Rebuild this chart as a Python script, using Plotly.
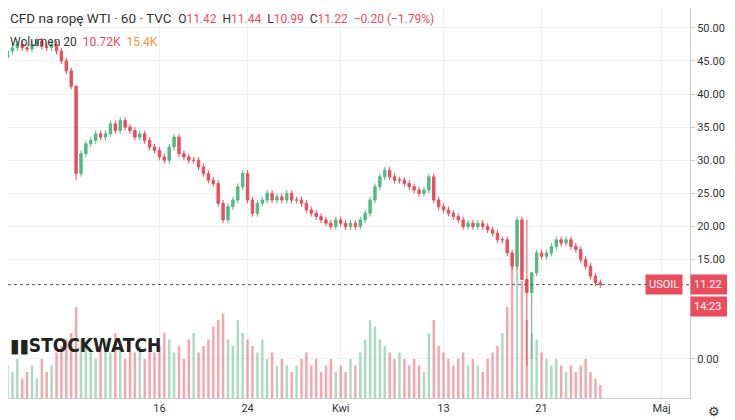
import plotly.graph_objects as go

# closes, 3 candles per trading day (Mar 2 .. Apr 28)
close = [45.5, 46.5, 47.0, 47.5, 47.0, 46.8, 47.5, 48.0, 47.2, 47.0, 47.5, 46.5, 45.0, 43.5, 41.2,
         28.0, 31.0, 32.5, 33.0, 34.0, 33.5, 34.0, 35.5, 34.5, 36.0, 35.0, 34.5, 33.5, 34.0, 33.0,
         32.0, 31.5, 30.5, 30.0, 32.0, 33.5, 31.0, 30.5, 30.0, 30.0, 29.0, 28.0, 27.0, 26.5, 23.5,
         21.0, 23.0, 24.0, 26.0, 28.0, 24.0, 22.0, 23.5, 24.0, 25.0, 24.0, 24.5, 24.0, 25.0, 24.0,
         24.0, 23.5, 22.5, 22.0, 21.5, 21.0, 20.5, 20.0, 21.0, 20.5, 20.0, 20.5, 20.0, 21.0, 22.0,
         24.0, 26.0, 27.5, 28.5, 27.5, 27.0, 27.0, 26.5, 26.0, 25.5, 25.0, 25.5, 27.5, 24.0, 23.0,
         22.5, 22.0, 21.5, 21.0, 20.0, 20.5, 20.0, 20.5, 20.0, 19.5, 19.0, 18.0, 18.0, 16.0, 14.0,
         21.0, 12.0, 10.0, 13.0, 16.0, 15.5, 16.0, 17.0, 18.0, 17.5, 18.0, 17.0, 16.5, 15.0, 14.0,
         12.5, 11.5, 11.22]
first_open = 45.0
wick = 0.5
# explicit extreme wicks (index: (high, low))
extremes = {15: (30.0, 27.0), 106: (21.5, 13.0), 107: (21.0, -1.0), 108: (12.0, 0.0)}

volume = [3, 5, 4, 6, 3, 4, 5, 3, 6, 4, 5, 7, 8, 9, 10,
          14, 9, 8, 7, 6, 8, 9, 7, 10, 8, 6, 9, 7, 8, 6,
          9, 7, 8, 10, 9, 7, 8, 6, 9, 10, 7, 8, 9, 11, 12,
          13, 9, 8, 12, 10, 9, 8, 7, 9, 6, 7, 5, 6, 5, 4,
          5, 6, 7, 5, 6, 4, 5, 6, 4, 5, 4, 6, 5, 7, 9,
          12, 11, 9, 8, 7, 6, 7, 6, 5, 6, 5, 4, 10, 12, 8,
          7, 6, 5, 6, 7, 5, 6, 5, 4, 6, 7, 8, 10, 14, 22,
          21, 18, 12, 10, 9, 7, 6, 5, 6, 5, 4, 5, 4, 5, 6,
          4, 3, 2]

tick_idx = [0, 32, 50, 69, 90, 110, 134.5]
tick_txt = ['marz.', '16', '24', 'Kwi', '13', '21', 'Maj']
price_ticks = [0, 15, 20, 25, 30, 35, 40, 45, 50]

UP, DN = '#53b987', '#eb4d5c'

x = list(range(len(close)))
opens = [first_open] + close[:-1]
highs, lows = [], []
for i, (o, c) in enumerate(zip(opens, close)):
    h, l = extremes.get(i, (max(o, c) + wick, min(o, c) - wick))
    highs.append(h)
    lows.append(l)
vcol = ['rgba(83,185,135,0.5)' if c >= o else 'rgba(235,77,92,0.5)' for o, c in zip(opens, close)]

fig = go.Figure()
fig.add_trace(go.Bar(x=x, y=volume, marker_color=vcol, marker_line_width=0, yaxis='y2',
                     showlegend=False, width=0.5))
fig.add_trace(go.Candlestick(x=x, open=opens, high=highs, low=lows, close=close,
                             increasing=dict(line=dict(color=UP, width=1), fillcolor=UP),
                             decreasing=dict(line=dict(color=DN, width=1), fillcolor=DN),
                             whiskerwidth=0, showlegend=False))
fig.add_hline(y=close[-1], line=dict(color='#555', width=1, dash='dot'))

grid = '#eef1f6'
fig.update_layout(
    width=727, height=412, margin=dict(l=0, r=45, t=0, b=22),
    plot_bgcolor='white', paper_bgcolor='white',
    font=dict(family='Roboto', size=11, color='#333'),
    xaxis=dict(range=[1.1, 140.3], tickvals=tick_idx, ticktext=tick_txt, showgrid=True,
               gridcolor=grid, rangeslider=dict(visible=False), showline=True,
               linecolor='#ccc', ticks='', zeroline=False),
    yaxis=dict(side='right', range=[-5.9, 53.0], tickvals=price_ticks, tickformat='.2f',
               gridcolor=grid, showline=True, linecolor='#ccc', zeroline=False,
               ticks='outside', ticklen=4, tickcolor='#ccc'),
    yaxis2=dict(overlaying='y', range=[0, 60], visible=False),
    bargap=0.2,
)
fig.add_annotation(xref='paper', yref='paper', x=0.0, y=1.0, xanchor='left', yanchor='top',
                   showarrow=False, align='left', font=dict(size=13.5, color='#333'),
                   text="CFD na ropę WTI · 60 · TVC  <span style='font-size:12px'>O<span style='color:#eb4d5c'>11.42</span>  H<span style='color:#eb4d5c'>11.44</span>  L<span style='color:#eb4d5c'>10.99</span>  C<span style='color:#eb4d5c'>11.22  −0.20 (−1.79%)</span></span>")
fig.add_annotation(xref='paper', yref='paper', x=0.0, y=0.935, xanchor='left', yanchor='top',
                   showarrow=False, font=dict(size=12, color='#333'),
                   text="Wolumen 20  <span style='color:#eb4d5c'>10.72K</span>  <span style='color:#f7913a'>15.4K</span>")
fig.add_annotation(xref='paper', yref='paper', x=0.0, y=0.135, xanchor='left', yanchor='middle',
                   showarrow=False, font=dict(size=19, color='#222', family='DejaVu Sans Condensed'),
                   text="<b>▮▮STOCKWATCH</b>")
fig.add_annotation(xref='paper', yref='y', x=0.99, y=close[-1], xanchor='right', showarrow=False,
                   bgcolor='#eb4d5c', font=dict(color='white', size=11), text='USOIL', borderpad=3)
fig.add_annotation(xref='paper', yref='y', x=1.0, y=close[-1], xanchor='left', showarrow=False,
                   bgcolor='#eb4d5c', font=dict(color='white', size=11), text='11.22  ', borderpad=3)
fig.add_annotation(xref='paper', yref='y', x=1.0, y=close[-1] - 3.3, xanchor='left', showarrow=False,
                   bgcolor='#eb4d5c', font=dict(color='white', size=11), text='14:23  ', borderpad=3)
fig.add_annotation(xref='paper', yref='paper', x=1.035, y=-0.01, xanchor='center', yanchor='top',
                   showarrow=False, font=dict(size=13, color='#333'), text='⚙')

fig.write_html('out.html')
